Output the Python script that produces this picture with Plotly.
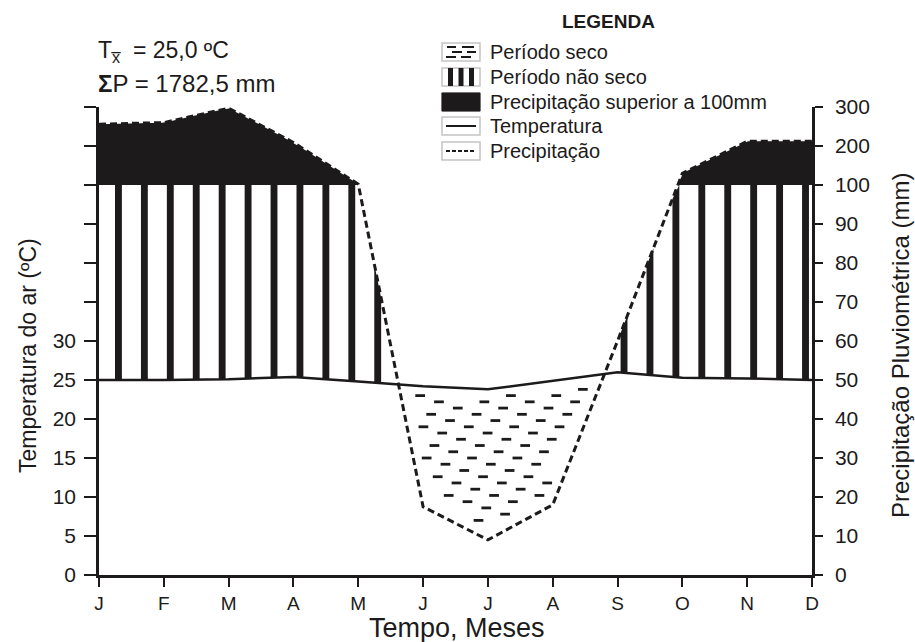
import numpy as np
import plotly.graph_objects as go

# ---------------- data ----------------
months = ["J", "F", "M", "A", "M", "J", "J", "A", "S", "O", "N", "D"]
temperature = [25.0, 25.0, 25.1, 25.4, 24.8, 24.2, 23.8, 24.9, 26.0, 25.3, 25.2, 25.0]   # ºC
precipitation = [256, 260, 297, 209, 102, 17.5, 9.0, 18, 60, 130, 212, 212]               # mm
temp_tick_values = [0, 5, 10, 15, 20, 25, 30]
temp_tick_labels = ["0", "5", "10", "15", "20", "25", "30"]
precip_tick_labels = ["0", "10", "20", "30", "40", "50", "60", "70", "80", "90", "100", "200", "300"]

legend_labels = ["Período seco", "Período não seco", "Precipitação superior a 100mm",
                 "Temperatura", "Precipitação"]

FONT = "Liberation Sans, Arial, Helvetica, sans-serif"
INK = "#1c1a1a"

# Walter-Lieth scale: 2 mm = 1 ºC up to 100 mm, then compressed 1:10
def p_scale(mm):
    mm = np.asarray(mm, dtype=float)
    return np.where(mm <= 100, mm / 2.0, 50 + (mm - 100) / 20.0)

mx = np.arange(len(months), dtype=float)
P_t = p_scale(precipitation)
T = np.array(temperature)

xf = np.linspace(0, 11, 4401)
Tf = np.interp(xf, mx, T)
Pf = np.interp(xf, mx, P_t)

def segments(mask):
    segs, start = [], None
    for i, m in enumerate(mask):
        if m and start is None:
            start = i
        if not m and start is not None:
            segs.append((start, i - 1)); start = None
    if start is not None:
        segs.append((start, len(mask) - 1))
    return segs

fig = go.Figure()

# --- black area: precipitation above 100 mm ---
bx, by = [], []
for a, b in segments(Pf > 50):
    xs = list(xf[a:b + 1]); ys = list(Pf[a:b + 1])
    bx += xs + xs[::-1] + [xs[0], None]
    by += ys + [50] * len(xs) + [ys[0], None]
fig.add_trace(go.Scatter(x=bx, y=by, mode="lines", fill="toself", fillcolor=INK,
                         line=dict(width=0, color=INK), hoverinfo="skip"))

# --- vertical stripes: humid period ---
sx, sy = [], []
h = 0.053
for a, b in segments(Pf > Tf):
    s, e = xf[a], xf[b]
    c = s + 0.3
    while c + h <= e + 1e-9:
        xl, xr = c - h, c + h
        tl, tr = np.interp([xl, xr], mx, T)
        pl, pr = np.interp([xl, xr], mx, P_t)
        topl, topr = max(min(pl, 50), tl), max(min(pr, 50), tr)
        sx += [xl, xr, xr, xl, xl, None]
        sy += [tl, tr, topr, topl, tl, None]
        c += 0.4
fig.add_trace(go.Scatter(x=sx, y=sy, mode="lines", fill="toself", fillcolor=INK,
                         line=dict(width=0, color=INK), hoverinfo="skip"))

# --- horizontal dashes: dry period ---
dx, dy = [], []
L = 0.15
rows = np.arange(24.6, 0.5, -0.8)
for r, yv in enumerate(rows):
    off = (r * 0.29) % 0.7
    x0 = 4.3 + off
    while x0 < 8.2:
        chk = np.linspace(x0 - 0.08, x0 + L + 0.08, 7)
        ok = all(np.interp(c_, mx, P_t) + 0.9 <= yv <= np.interp(c_, mx, T) - 0.9 for c_ in chk)
        if ok:
            dx += [x0, x0 + L, None]
            dy += [yv, yv, None]
        x0 += 0.7
fig.add_trace(go.Scatter(x=dx, y=dy, mode="lines", line=dict(width=2.8, color=INK),
                         hoverinfo="skip"))

# --- temperature line ---
fig.add_trace(go.Scatter(x=mx, y=T, mode="lines", line=dict(width=2.5, color=INK),
                         cliponaxis=False, name="Temperatura"))
# --- precipitation line (right axis) ---
fig.add_trace(go.Scatter(x=mx, y=P_t, mode="lines", yaxis="y2",
                         line=dict(width=3, color=INK, dash="7px,4px"),
                         cliponaxis=False, name="Precipitação"))

# ---------------- layout ----------------
W, H = 915, 642
ML, MR, MT, MB = 99, 103, 107, 67
PW, PH = W - ML - MR, H - MT - MB

def px(xp):
    return (xp - ML) / PW

def py(yp):
    return (H - MB - yp) / PH

tick_font = dict(family=FONT, size=21, color=INK)
all_vals = list(range(0, 61, 5))
extra_vals = [v for v in all_vals if v not in temp_tick_values]

fig.update_layout(
    width=W, height=H, margin=dict(l=ML, r=MR, t=MT, b=MB, pad=0),
    plot_bgcolor="white", paper_bgcolor="white", showlegend=False,
    font=dict(family=FONT, color=INK),
    xaxis=dict(range=[0, 11], tickvals=list(mx), ticktext=months, ticks="outside",
               ticklen=9, tickwidth=2, tickcolor=INK, showline=True, linewidth=2.5,
               linecolor=INK, showgrid=False, zeroline=False,
               tickfont=dict(family=FONT, size=19, color=INK)),
    yaxis=dict(range=[0, 60], tickvals=temp_tick_values, ticktext=temp_tick_labels,
               ticks="outside", ticklen=12, tickwidth=2, tickcolor=INK, showline=True,
               linewidth=2.5, linecolor=INK, showgrid=False, zeroline=False,
               tickfont=tick_font, ticklabelstandoff=4,
               minor=dict(tickvals=extra_vals, ticks="outside", ticklen=12, tickwidth=2,
                          tickcolor=INK, showgrid=False)),
    yaxis2=dict(range=[0, 60], overlaying="y", side="right", tickvals=all_vals,
                ticktext=precip_tick_labels, ticks="outside", ticklen=8, tickwidth=2,
                tickcolor=INK, showline=True, linewidth=2.5, linecolor=INK,
                showgrid=False, zeroline=False, tickfont=tick_font, ticklabelstandoff=8),
)

ann = []
def add_text(text, xp, yp, size, xanchor="left", yanchor="middle", angle=0, bold=False):
    ann.append(dict(text=f"<b>{text}</b>" if bold else text, x=px(xp), y=py(yp),
                    xref="paper", yref="paper", xanchor=xanchor, yanchor=yanchor,
                    showarrow=False, textangle=angle,
                    font=dict(family=FONT, size=size, color=INK)))

mean_t = f"{np.mean(temperature):.1f}".replace(".", ",")
sum_p = f"{np.sum(precipitation):.1f}".replace(".", ",")
add_text(f"T<sub>x\u0305</sub>  = {mean_t} ºC", 96, 52, 23)
add_text(f"<b>Σ</b>P = {sum_p} mm", 96, 84, 24)

add_text("Tempo, Meses", 457, 628, 27, xanchor="center")
add_text("Temperatura do ar (ºC)", 28, 356, 23, xanchor="center", angle=-90)
add_text("Precipitação Pluviométrica (mm)", 900, 346, 24, xanchor="center", angle=-90)

# legend
add_text("LEGENDA", 608, 21, 19, xanchor="center", bold=True)
rows_y = [52, 77, 102, 126, 151]
for lab, yc in zip(legend_labels, rows_y):
    add_text(lab, 488, yc, 20)

shapes = []
bx0, bx1, bh = 442, 480, 9
def rect(x0, y0, x1, y1, fill="white", lc="#c4c4c4", lw=1.5):
    shapes.append(dict(type="rect", xref="paper", yref="paper", x0=px(x0), x1=px(x1),
                       y0=py(y0), y1=py(y1), fillcolor=fill, line=dict(color=lc, width=lw)))
def seg(x0, y0, x1, y1, w=2, dash="solid"):
    shapes.append(dict(type="line", xref="paper", yref="paper", x0=px(x0), x1=px(x1),
                       y0=py(y0), y1=py(y1), line=dict(color=INK, width=w, dash=dash)))

for yc in rows_y:
    rect(bx0, yc - bh, bx1, yc + bh)
# seco: staggered dashes
y1c = rows_y[0]
for (a, b, yy) in [(447, 456, y1c - 5), (462, 474, y1c - 5), (452, 462, y1c), (467, 476, y1c),
                   (446, 456, y1c + 5), (461, 471, y1c + 5)]:
    seg(a, yy, b, yy, w=2)
# não seco: three bars
y2c = rows_y[1]
for xb in [450.5, 461, 471.5]:
    rect(xb - 2.5, y2c - bh, xb + 2.5, y2c + bh, fill=INK, lc=INK, lw=0)
# > 100 mm: black box
rect(bx0, rows_y[2] - bh, bx1, rows_y[2] + bh, fill=INK, lc=INK, lw=1)
# temperature: solid line
seg(446, rows_y[3], 476, rows_y[3], w=2)
# precipitation: dashed line
seg(446, rows_y[4], 476, rows_y[4], w=2, dash="4px,2px")

fig.update_layout(annotations=ann, shapes=shapes)
fig.write_html("out.html")
